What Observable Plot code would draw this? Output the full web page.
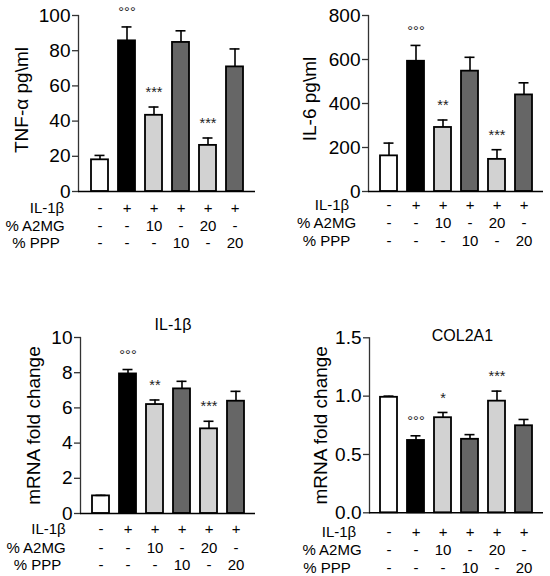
<!DOCTYPE html>
<html>
<head>
<meta charset="utf-8">
<script src="https://cdn.jsdelivr.net/npm/d3@7"></script>
<script src="https://cdn.jsdelivr.net/npm/@observablehq/plot@0.6"></script>
<style>
  body { margin: 0; background: white; }
  #wrap { position: relative; width: 550px; height: 576px; font-family: "Liberation Sans", Arial, sans-serif; }
  .cell { position: absolute; width: 275px; height: 288px; }
</style>
</head>
<body>
<div id="wrap">
  <div class="cell" id="p1" style="left:0;top:0"></div>
  <div class="cell" id="p2" style="left:275px;top:0"></div>
  <div class="cell" id="p3" style="left:0;top:288px"></div>
  <div class="cell" id="p4" style="left:275px;top:288px"></div>
</div>
<script>
// ---- shared categories ----
const conditions = ["CTRL", "IL-1β", "IL-1β+A2MG10", "IL-1β+PPP10", "IL-1β+A2MG20", "IL-1β+PPP20"];
const barFills = ["#ffffff", "#000000", "#d2d2d2", "#666666", "#d2d2d2", "#666666"];
const rowLabels = ["IL-1β", "% A2MG", "% PPP"];
const il1bRow = ["-", "+", "+", "+", "+", "+"];
const a2mgRow = ["-", "-", "10", "-", "20", "-"];
const pppRow  = ["-", "-", "-", "10", "-", "20"];
const tableRows = [il1bRow, a2mgRow, pppRow];

// ---- TNF-α ----
const tnfMean  = [18, 85.6, 43.3, 84.7, 26.2, 70.8];
const tnfUpper = [20.5, 93.5, 48, 91.3, 30.4, 81];
const tnfStars = ["", "°°°", "***", "", "***", ""];
const tnfTicks = [0, 20, 40, 60, 80, 100];

// ---- IL-6 ----
const il6Mean  = [162, 592, 291, 547, 146, 439];
const il6Upper = [220, 664, 325, 610, 190, 494];
const il6Stars = ["", "°°°", "**", "", "***", ""];
const il6Ticks = [0, 200, 400, 600, 800];

// ---- IL-1β mRNA ----
const il1bMean  = [1.0, 7.93, 6.19, 7.08, 4.81, 6.38];
const il1bUpper = [1.03, 8.18, 6.45, 7.51, 5.24, 6.94];
const il1bStars = ["", "°°°", "**", "", "***", ""];
const il1bTicks = [0, 2, 4, 6, 8, 10];

// ---- COL2A1 mRNA ----
const col2Mean  = [0.99, 0.62, 0.815, 0.63, 0.957, 0.746];
const col2Upper = [1.0, 0.66, 0.86, 0.67, 1.043, 0.80];
const col2Stars = ["", "°°°", "*", "", "***", ""];
const col2Ticks = [0, 0.5, 1.0, 1.5];

function panel(o) {
  const rows = conditions.map((c, i) => ({cond: c, mean: o.mean[i], upper: o.upper[i], star: o.stars[i], fill: barFills[i]}));
  const y0 = o.ticks[0];
  const marks = [
    Plot.axisY({ticks: o.ticks, tickFormat: o.fmt, tickSize: 6, tickPadding: 2, fontSize: 19, strokeWidth: 1.3, stroke: "#333", fill: "black", label: null}),
    Plot.frame({anchor: "left", stroke: "#333", strokeWidth: 1.3}),
    Plot.barY(rows, {x: "cond", y: "mean", fill: "fill", stroke: "black", strokeWidth: 1.8}),
    Plot.ruleX(rows, {x: "cond", y1: "mean", y2: "upper", stroke: "black", strokeWidth: 1.6}),
    Plot.tickY(rows, {x: "cond", y: "upper", stroke: "black", strokeWidth: 1.6, insetLeft: 3.5, insetRight: 3.5}),
    Plot.ruleY([y0], {stroke: "black", strokeWidth: 1.6}),
    Plot.text(rows, {x: "cond", y: "upper", text: "star", dy: -14.5, fontSize: 14.5, fill: "#222"}),
    Plot.text([o.ylabel], {frameAnchor: "left", textAnchor: "middle", rotate: -90, dx: o.ylabelDx, dy: o.ylabelDy, fontSize: 19, fill: "black"})
  ];
  tableRows.forEach((vals, r) => {
    marks.push(Plot.text(rows, {x: "cond", y: () => y0, text: (d, i) => vals[i], dy: o.tableDy[r], fontSize: 15, fill: "black"}));
    marks.push(Plot.text([rowLabels[r]], {x: () => conditions[0], y: () => y0, text: d => d, dy: o.tableDy[r], dx: o.labelDx[r], fontSize: 15, fill: "black"}));
  });
  if (o.title) {
    marks.push(Plot.text([o.title], {frameAnchor: "top", textAnchor: "middle", dx: o.titleDx, dy: o.titleDy, fontSize: 16, fill: "black"}));
  }
  return Plot.plot({
    width: 275,
    height: 288,
    marginLeft: o.ml, marginRight: o.mr, marginTop: o.mt, marginBottom: o.mb,
    style: {fontFamily: "Liberation Sans, Arial, sans-serif", fontSize: "19px", color: "#333", background: "white"},
    x: {domain: conditions, axis: null, paddingInner: 0.38, paddingOuter: o.po},
    y: {domain: [o.ticks[0], o.ticks[o.ticks.length - 1]]},
    color: {type: "identity"},
    marks
  });
}

document.getElementById("p1").append(panel({
  mean: tnfMean, upper: tnfUpper, stars: tnfStars, ticks: tnfTicks, fmt: d3.format("d"),
  ylabel: "TNF-α pg\\ml", ylabelDx: -57, ylabelDy: -3.5,
  ml: 78, mr: 20, mt: 15, mb: 97, po: 0.40,
  tableDy: [17, 35, 52], labelDx: [-53, -65, -64]
}));
document.getElementById("p2").append(panel({
  mean: il6Mean, upper: il6Upper, stars: il6Stars, ticks: il6Ticks, fmt: d3.format("d"),
  ylabel: "IL-6 pg\\ml", ylabelDx: -59, ylabelDy: -4.5,
  ml: 93, mr: 7, mt: 15, mb: 97, po: 0.37,
  tableDy: [13.5, 32, 50], labelDx: [-57, -62.5, -62.5]
}));
document.getElementById("p3").append(panel({
  mean: il1bMean, upper: il1bUpper, stars: il1bStars, ticks: il1bTicks, fmt: d3.format("d"),
  ylabel: "mRNA fold change", ylabelDx: -47, ylabelDy: 0,
  ml: 80, mr: 20, mt: 49, mb: 63, po: 0.37,
  tableDy: [16, 34.4, 51.7], labelDx: [-52.5, -65, -63.5],
  title: "IL-1β", titleDx: 5, titleDy: -19
}));
document.getElementById("p4").append(panel({
  mean: col2Mean, upper: col2Upper, stars: col2Stars, ticks: col2Ticks, fmt: d3.format(".1f"),
  ylabel: "mRNA fold change", ylabelDx: -49, ylabelDy: 0,
  ml: 94, mr: 7, mt: 49.3, mb: 63.7, po: 0.37,
  tableDy: [19.4, 37.7, 55], labelDx: [-50, -57, -62],
  title: "COL2A1", titleDx: 6, titleDy: -8
}));
</script>
</body>
</html>
